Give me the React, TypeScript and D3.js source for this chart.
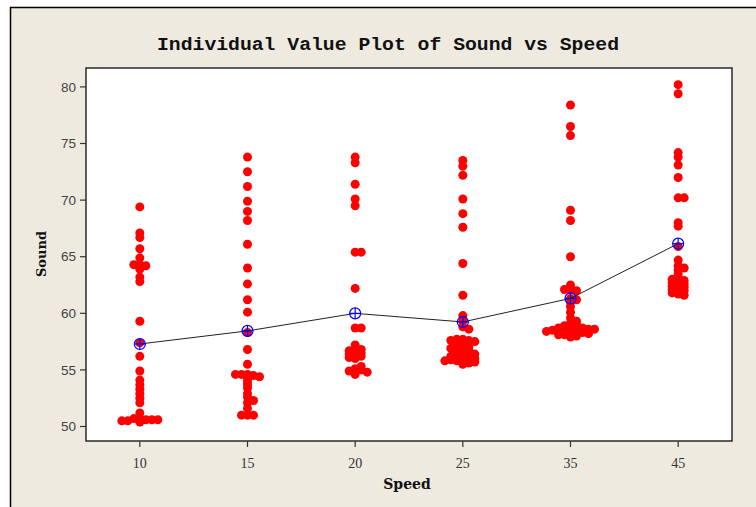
import React, { useMemo } from 'react';
import { scaleLinear, scalePoint, mean, line } from 'd3';

// Speed groups and the Sound readings in each
const speeds = ['10', '15', '20', '25', '35', '45'];

const sound10 = [69.4, 67.1, 66.7, 65.7, 64.9, 64.3, 64.2, 64.3, 63.9, 63.2, 62.8, 59.3, 57.4, 56.2, 54.9,
  54.1, 53.7, 53.3, 52.9, 52.5, 52.1, 51.2, 50.7, 50.6, 50.7, 50.6, 50.5, 50.6, 50.4, 50.5];
const sound15 = [73.8, 72.5, 71.2, 69.9, 69.0, 68.2, 66.1, 64.0, 62.6, 61.2, 60.1, 58.3, 56.8, 55.5, 54.6,
  54.5, 54.6, 54.3, 54.0, 53.4, 52.6, 52.1, 51.6, 51.0, 51.0, 51.0, 54.4, 54.6, 53.7, 52.9, 52.3];
const sound20 = [73.8, 73.3, 71.4, 70.1, 69.5, 65.4, 65.4, 62.2, 58.7, 58.7, 57.2, 56.9, 56.8, 56.7, 56.6,
  56.3, 56.2, 56.1, 56.0, 55.1, 55.0, 54.9, 54.6, 56.5, 56.4, 55.3, 54.8];
const sound25 = [73.5, 73.0, 72.2, 70.1, 68.8, 67.6, 64.4, 61.6, 59.8, 59.3, 58.8, 58.6, 57.7, 57.6, 57.7,
  57.5, 57.6, 57.2, 57.0, 56.8, 56.7, 56.5, 56.2, 56.0, 55.9, 55.8, 56.0, 55.5, 55.6, 57.4, 57.1, 56.9,
  56.6, 56.3, 56.1, 55.7, 56.4, 57.3, 55.9, 55.8, 56.2];
const sound35 = [78.4, 76.5, 75.7, 69.1, 68.2, 65.0, 62.5, 62.1, 62.0, 62.1, 61.3, 61.2, 61.0, 60.6, 60.1,
  59.6, 59.1, 58.8, 58.7, 58.6, 58.7, 58.5, 58.3, 58.2, 58.1, 58.3, 57.9, 58.4, 58.6, 58.9, 59.3, 58.2,
  58.0, 58.5, 58.7, 59.0, 58.1, 58.4, 58.6];
const sound45 = [80.2, 79.4, 74.2, 73.8, 73.1, 72.0, 70.2, 70.2, 68.0, 67.7, 65.9, 64.7, 64.2, 64.0, 63.8,
  63.5, 63.2, 62.8, 62.6, 62.5, 62.7, 62.3, 62.2, 62.0, 61.7, 61.6, 61.8, 62.4, 62.9, 62.1, 63.0];

const groups = [sound10, sound15, sound20, sound25, sound35, sound45];
const yTicks = [50, 55, 60, 65, 70, 75, 80];

const W = 756;
const H = 507;
const plot = { left: 86, right: 732, top: 68, bottom: 441 };
const DOT_R = 4.5;

export default function App() {
  const x = scalePoint<string>().domain(speeds).range([plot.left, plot.right]).padding(0.5);
  const y = scaleLinear().domain([48.72, 81.67]).range([plot.bottom, plot.top]);

  // spread nearly-equal points sideways (symmetric), like Minitab does
  const dots = useMemo(() => {
    const out: { cx: number; cy: number; key: string }[] = [];
    const step = 6;
    groups.forEach((vals, gi) => {
      const cx0 = x(speeds[gi]) || 0;
      const placed: { dx: number; cy: number }[] = [];
      vals.forEach((v, i) => {
        const cy = y(v);
        const row = placed.filter(p => Math.abs(p.cy - cy) < 3);
        const free = (s: number) => !row.some(p => Math.abs(p.dx - s) < step - 1);
        let dx = 0;
        if (!free(0)) {
          const left = row.filter(p => p.dx < 0).length;
          const right = row.filter(p => p.dx > 0).length;
          const sign = right > left ? -1 : 1;
          for (let k = 1; k <= 6; k++) {
            if (free(sign * k * step)) { dx = sign * k * step; break; }
            if (free(-sign * k * step)) { dx = -sign * k * step; break; }
          }
        }
        placed.push({ dx, cy });
        out.push({ cx: cx0 + dx, cy, key: `${gi}-${i}` });
      });
    });
    return out;
  }, []);

  const means = groups.map((vals, gi) => ({ cx: x(speeds[gi]) || 0, cy: y(mean(vals) || 0) }));
  const meanPath = line<{ cx: number; cy: number }>().x(d => d.cx).y(d => d.cy)(means) || '';

  return (
    <svg width={W} height={H} style={{ position: 'absolute', left: 0, top: 0 }}>
      <rect width={W} height={H} fill="#ffffff" />
      <rect x={10} y={7} width={W - 10} height={H - 7} fill="#eeeae0" />
      <line x1={10} x2={W} y1={7.5} y2={7.5} stroke="#000" strokeWidth={1.5} />
      <line x1={10.5} x2={10.5} y1={7} y2={H} stroke="#000" strokeWidth={1.5} />

      <text x={388} y={50} textAnchor="middle" fontFamily="Liberation Mono" fontWeight="bold"
        fontSize={19} textLength={462} lengthAdjust="spacingAndGlyphs" fill="#111">
        Individual Value Plot of Sound vs Speed
      </text>

      <rect x={plot.left} y={plot.top} width={plot.right - plot.left} height={plot.bottom - plot.top}
        fill="#ffffff" stroke="#2a2a2a" strokeWidth={1.5} />

      {/* y axis */}
      {yTicks.map(t => (
        <g key={t}>
          <line x1={plot.left - 6} x2={plot.left} y1={y(t)} y2={y(t)} stroke="#333" strokeWidth={1.2} />
          <text x={plot.left - 10} y={y(t)} dy="0.35em" textAnchor="end" fontFamily="Liberation Sans"
            fontSize={13.5} fill="#444">{t}</text>
        </g>
      ))}
      <text transform={`translate(46,254) rotate(-90)`} textAnchor="middle" fontFamily="DejaVu Serif"
        fontWeight="bold" fontSize={13} fill="#111">Sound</text>

      {/* x axis */}
      {speeds.map(s => (
        <g key={s}>
          <line x1={x(s)} x2={x(s)} y1={plot.bottom} y2={plot.bottom + 6} stroke="#333" strokeWidth={1.2} />
          <text x={x(s)} y={468} textAnchor="middle" fontFamily="Liberation Serif" fontSize={14}
            fill="#333">{s}</text>
        </g>
      ))}
      <text x={407} y={489} textAnchor="middle" fontFamily="DejaVu Serif" fontWeight="bold"
        fontSize={14} fill="#111">Speed</text>

      {dots.map(d => <circle key={d.key} cx={d.cx} cy={d.cy} r={DOT_R} fill="#ff0000" />)}

      <path d={meanPath} fill="none" stroke="#222" strokeWidth={1} />
      {means.map((m, i) => (
        <g key={i} stroke="#0000ff" strokeWidth={1.2} fill="none">
          <circle cx={m.cx} cy={m.cy} r={5.5} />
          <line x1={m.cx - 5.5} x2={m.cx + 5.5} y1={m.cy} y2={m.cy} />
          <line x1={m.cx} x2={m.cx} y1={m.cy - 5.5} y2={m.cy + 5.5} />
        </g>
      ))}
    </svg>
  );
}
